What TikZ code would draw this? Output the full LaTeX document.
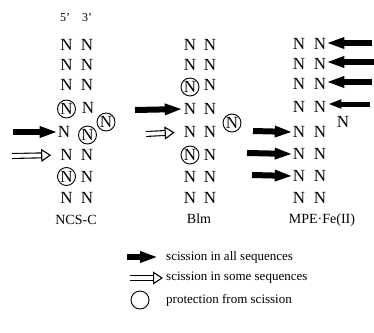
\documentclass[tikz,border=0pt]{standalone}
\usepackage{fontspec}
\setmainfont{Liberation Serif}
\usetikzlibrary{arrows.meta}
\begin{document}
\begin{tikzpicture}[x=1pt,y=-1pt,
  base/.style={font=\fontsize{17}{18}\selectfont, inner sep=0pt},
  ring/.style={base, circle, draw, line width=0.9pt, minimum size=18pt},
  lab/.style={font=\fontsize{14}{16}\selectfont, inner sep=0pt},
  key/.style={font=\fontsize{13}{15}\selectfont, inner sep=0pt},
  prime/.style={font=\fontsize{12}{14}\selectfont, inner sep=0pt},
  fullcut/.style={line width=6pt, -{Triangle[length=18pt,width=10.5pt]}},
  smallcut/.style={line width=5pt, -{Triangle[length=13pt,width=8.5pt]}},
  partcut/.style={double, double distance=3.8pt, line width=1.1pt,
     -{Triangle[open,length=10pt,width=13pt,line width=1.1pt]}}]
\useasboundingbox (0,0) rectangle (374,332);
% ---------- NCS-C ----------
\node[prime] (p5) at (65,18) {5'};
\node[prime] (p3) at (87,18) {3'};
\node[base] (a11) at (66.5,45) {N};   \node[base] (a12) at (87,45) {N};
\node[base] (a21) at (66.5,64.5) {N}; \node[base] (a22) at (87,64.5) {N};
\node[base] (a31) at (66.5,85) {N};   \node[base] (a32) at (87,85) {N};
\node[ring] (a41) at (66.5,109) {N};  \node[base] (a42) at (88,107.5) {N};
\node[base] (a51) at (64,132) {N};    \node[ring] (a52) at (87.5,135) {N};
\node[ring] (ax) at (106,122) {N};
\node[base] (a61) at (66.5,155) {N};  \node[base] (a62) at (87,155) {N};
\node[ring] (a71) at (66.5,176.5) {N};\node[base] (a72) at (87,176.5) {N};
\node[base] (a81) at (66.5,198) {N};  \node[base] (a82) at (87,198) {N};
\node[lab] (la) at (76,220) {NCS-C};
\coordinate (ta1) at (13,132);
\coordinate (ta2) at (12,156);
\draw[fullcut] (ta1) -- (a51.west);
\draw[partcut, shorten >=9pt] (ta2) -- (a61.west);
% ---------- Blm ----------
\node[base] (b11) at (190,45) {N};   \node[base] (b12) at (210,45) {N};
\node[base] (b21) at (190,64.5) {N}; \node[base] (b22) at (210,64.5) {N};
\node[ring] (b31) at (190,87) {N};   \node[base] (b32) at (210,85) {N};
\node[base] (b41) at (190,109) {N};  \node[base] (b42) at (210,109) {N};
\node[ring] (bx) at (232,123) {N};
\node[base] (b51) at (190,132) {N};  \node[base] (b52) at (210,132) {N};
\node[ring] (b61) at (190,155) {N};  \node[base] (b62) at (210,155) {N};
\node[base] (b71) at (190,176.5) {N};\node[base] (b72) at (210,176.5) {N};
\node[base] (b81) at (190,198) {N};  \node[base] (b82) at (210,198) {N};
\node[lab] (lb) at (199,219) {Blm};
\coordinate (tb1) at (135,110);
\coordinate (tb2) at (146,134);
\draw[fullcut, shorten >=1pt] (tb1) -- (b41.west);
\draw[partcut, shorten >=9pt] (tb2) -- (b51.west);
% ---------- MPE.Fe(II) ----------
\node[base] (m11) at (299,44) {N};   \node[base] (m12) at (320,44) {N};
\node[base] (m21) at (299,63.5) {N}; \node[base] (m22) at (320,63.5) {N};
\node[base] (m31) at (299,84) {N};   \node[base] (m32) at (320,84) {N};
\node[base] (m41) at (299,107) {N};  \node[base] (m42) at (320,107) {N};
\node[base] (mx) at (343,122) {N};
\node[base] (m51) at (299,132) {N};  \node[base] (m52) at (320,132) {N};
\node[base] (m61) at (299,154) {N};  \node[base] (m62) at (320,154) {N};
\node[base] (m71) at (299,176) {N};  \node[base] (m72) at (320,176) {N};
\node[base] (m81) at (299,198) {N};  \node[base] (m82) at (320,198) {N};
\node[lab] (lm) at (322,220) {MPE{\textperiodcentered}Fe(II)};
\coordinate (tm1) at (372,43);
\coordinate (tm2) at (374,62);
\coordinate (tm3) at (372,82);
\coordinate (tm4) at (370,104);
\coordinate (tm5) at (253,131);
\coordinate (tm6) at (247,153);
\coordinate (tm7) at (252,175);
\draw[fullcut] (tm1) -- (m12.east |- tm1);
\draw[fullcut] (tm2) -- (m22.east |- tm2);
\draw[fullcut] (tm3) -- (m32.east |- tm3);
\draw[smallcut, shorten >=2pt] (tm4) -- (m42.east |- tm4);
\draw[fullcut] (tm5) -- (m51.west);
\draw[fullcut] (tm6) -- (m61.west);
\draw[fullcut] (tm7) -- (m71.west);
% ---------- legend ----------
\node[key, anchor=west] (k1) at (166,257) {scission in all sequences};
\node[key, anchor=west] (k2) at (166,278) {scission in some sequences};
\node[key, anchor=west] (k3) at (166,300) {protection from scission};
\coordinate (kf) at (127,257);
\coordinate (ko) at (130,278);
\draw[fullcut, shorten >=8pt] (kf) -- (k1.west);
\draw[partcut, shorten >=3pt] (ko) -- (k2.west);
\node[circle, draw, line width=0.9pt, minimum size=18pt, inner sep=0pt] (kc) at (140,300) {};
\end{tikzpicture}
\end{document}
